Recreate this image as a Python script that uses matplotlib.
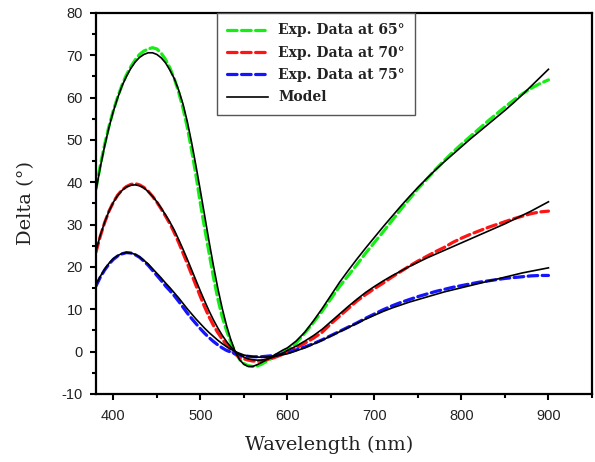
import numpy as np
import matplotlib
matplotlib.use("Agg")
import matplotlib.pyplot as plt
from matplotlib.ticker import MultipleLocator

plt.rcParams["axes.unicode_minus"] = False

# wavelength grid (nm): 5 nm steps over the oscillating part, 10 nm after
wavelength = np.concatenate([np.arange(380, 600, 5), np.arange(600, 901, 10)])

# measured Delta (deg) at three angles of incidence
exp_65 = [38.5, 44.0, 49.0, 53.3, 57.0, 60.2, 63.0, 65.4, 67.3, 68.9,
          70.2, 71.0, 71.5, 71.8, 71.5, 70.5, 69.0, 67.0, 64.5, 61.3,
          57.5, 52.9, 47.5, 41.5, 35.0, 29.0, 23.3, 17.6, 12.5, 8.3,
          5.0, 2.2, -0.2, -1.8, -2.8, -3.3, -3.5, -3.4, -3.0, -2.4,
          -1.8, -1.2, -0.6, -0.1,
          0.5, 2.0, 4.4, 6.9, 9.6, 12.5, 15.4, 18.0, 20.6, 23.3,
          25.8, 28.3, 30.9, 33.5, 36.0, 38.5, 40.7, 43.0, 45.1, 47.1,
          49.0, 50.8, 52.6, 54.4, 56.1, 57.8, 59.4, 60.9, 62.2, 63.3,
          64.2]
exp_70 = [23.5, 27.3, 30.5, 33.2, 35.3, 37.0, 38.2, 39.0, 39.5, 39.7,
          39.4, 38.8, 37.9, 36.7, 35.3, 33.7, 32.0, 30.2, 28.1, 25.8,
          23.3, 20.8, 18.2, 15.6, 13.0, 10.5, 8.2, 6.2, 4.5, 3.0,
          1.6, 0.4, -0.6, -1.3, -1.7, -2.0, -2.2, -2.3, -2.2, -2.0,
          -1.7, -1.4, -1.0, -0.6,
          -0.1, 0.9, 2.0, 3.2, 4.6, 6.6, 8.4, 10.2, 12.0, 13.5,
          14.9, 16.2, 17.6, 18.9, 20.2, 21.4, 22.5, 23.6, 24.6, 25.8,
          26.8, 27.7, 28.5, 29.3, 30.0, 30.7, 31.4, 32.0, 32.6, 33.0,
          33.2]
exp_75 = [15.5, 17.6, 19.3, 20.7, 21.8, 22.6, 23.1, 23.4, 23.3, 22.9,
          22.3, 21.4, 20.4, 19.2, 18.0, 16.8, 15.5, 14.4, 13.2, 11.9,
          10.5, 9.1, 7.8, 6.6, 5.4, 4.3, 3.3, 2.4, 1.6, 0.9,
          0.3, -0.1, -0.5, -0.8, -1.0, -1.1, -1.2, -1.2, -1.2, -1.1,
          -1.0, -0.9, -0.7, -0.5,
          -0.3, 0.4, 1.1, 1.9, 2.8, 3.8, 4.8, 5.8, 6.8, 7.9,
          8.9, 9.9, 10.8, 11.6, 12.3, 13.0, 13.6, 14.2, 14.7, 15.2,
          15.6, 16.0, 16.4, 16.7, 17.0, 17.3, 17.5, 17.7, 17.9, 18.0,
          18.0]

# fitted model
model_65 = [38.0, 43.6, 48.6, 53.0, 56.8, 60.0, 62.8, 65.0, 66.9, 68.4,
            69.5, 70.2, 70.6, 70.6, 70.2, 69.4, 68.2, 66.5, 64.5, 61.8,
            58.5, 54.3, 49.3, 43.8, 38.0, 32.0, 26.0, 20.3, 15.0, 10.3,
            6.2, 2.8, 0.0, -1.9, -3.0, -3.5, -3.5, -3.1, -2.6, -2.0,
            -1.4, -0.8, -0.2, 0.4,
            0.9, 2.5, 4.6, 7.3, 10.2, 13.3, 16.4, 19.2, 21.9, 24.5,
            27.0, 29.5, 31.9, 34.3, 36.6, 38.8, 40.9, 42.9, 44.8, 46.6,
            48.4, 50.2, 51.9, 53.6, 55.3, 57.0, 58.8, 60.7, 62.7, 64.7,
            66.7]
model_70 = [23.8, 27.5, 30.6, 33.2, 35.3, 36.9, 38.1, 38.9, 39.3, 39.4,
            39.2, 38.7, 37.8, 36.7, 35.4, 33.9, 32.3, 30.6, 28.7, 26.5,
            24.2, 21.8, 19.3, 16.8, 14.3, 11.9, 9.6, 7.5, 5.6, 3.9,
            2.4, 1.1, 0.1, -0.7, -1.3, -1.7, -1.9, -2.0, -2.0, -1.8,
            -1.6, -1.2, -0.8, -0.3,
            0.3, 1.3, 2.5, 3.8, 5.3, 7.1, 8.9, 10.7, 12.4, 14.0,
            15.4, 16.7, 17.9, 19.0, 20.1, 21.1, 22.1, 23.0, 23.9, 24.8,
            25.7, 26.6, 27.5, 28.4, 29.3, 30.2, 31.2, 32.2, 33.2, 34.3,
            35.4]
model_75 = [15.8, 17.8, 19.5, 20.9, 22.0, 22.7, 23.2, 23.4, 23.3, 23.0,
            22.4, 21.6, 20.7, 19.6, 18.5, 17.4, 16.2, 15.1, 13.9, 12.7,
            11.4, 10.1, 8.9, 7.7, 6.6, 5.5, 4.5, 3.6, 2.7, 1.9,
            1.2, 0.6, 0.0, -0.4, -0.8, -1.0, -1.2, -1.3, -1.3, -1.3,
            -1.2, -1.1, -0.9, -0.7,
            -0.5, 0.2, 0.9, 1.8, 2.7, 3.7, 4.7, 5.7, 6.7, 7.7,
            8.6, 9.5, 10.3, 11.0, 11.7, 12.3, 12.9, 13.5, 14.1, 14.6,
            15.1, 15.6, 16.1, 16.6, 17.1, 17.6, 18.1, 18.6, 19.0, 19.4,
            19.8]

labels = ["Exp. Data at 65°", "Exp. Data at 70°", "Exp. Data at 75°", "Model"]
colors = ["#14ee14", "#ff1414", "#1414ff"]

fig = plt.figure(figsize=(5.95, 4.62), dpi=100)
ax = fig.add_axes([0.1613, 0.1472, 0.8336, 0.8247])

dash = (0, (3.0, 1.4))
for y, c, lab in zip([exp_65, exp_70, exp_75], colors, labels[:3]):
    ax.plot(wavelength, y, color=c, lw=2.3, linestyle=dash, label=lab,
            dash_capstyle="round")
for i, y in enumerate([model_65, model_70, model_75]):
    ax.plot(wavelength, y, color="black", lw=1.2,
            label=labels[3] if i == 0 else None)

ax.set_xlim(380, 950)
ax.set_ylim(-10, 80)
ax.set_xticks(np.arange(400, 901, 100))
ax.xaxis.set_minor_locator(MultipleLocator(50))
ax.yaxis.set_major_locator(MultipleLocator(10))
ax.yaxis.set_minor_locator(MultipleLocator(5))

for s in ax.spines.values():
    s.set_linewidth(1.6)
ax.tick_params(which="both", direction="out", top=False, right=False,
               width=1.5, labelsize=10.5, colors="black")
ax.tick_params(which="major", length=4.5)
ax.tick_params(which="minor", length=3)
ax.tick_params(axis="y", which="major", pad=5)
ax.tick_params(axis="x", which="major", pad=6)
for t in ax.get_xticklabels() + ax.get_yticklabels():
    t.set_fontfamily("Liberation Sans")
    t.set_color("#222222")

ax.set_xlabel("Wavelength (nm)", fontfamily="DejaVu Serif", fontsize=14,
              color="#222222")
ax.xaxis.set_label_coords(0.47, -0.11, transform=ax.transAxes)
ax.xaxis.label.set_verticalalignment("top")
ax.set_ylabel("Delta (°)", fontfamily="DejaVu Serif", fontsize=14,
              labelpad=19, color="#222222")

leg = ax.legend(loc="upper left", bbox_to_anchor=(0.244, 1.0),
                borderaxespad=0, fancybox=False, frameon=True,
                edgecolor="#555555", framealpha=1, handlelength=2.95,
                handletextpad=0.7, labelspacing=0.6, borderpad=0.75,
                prop={"family": "DejaVu Serif", "weight": "bold", "size": 10})
leg.get_frame().set_linewidth(1.0)
for t in leg.get_texts():
    t.set_color("#222222")

fig.savefig("out.png", dpi=100)
